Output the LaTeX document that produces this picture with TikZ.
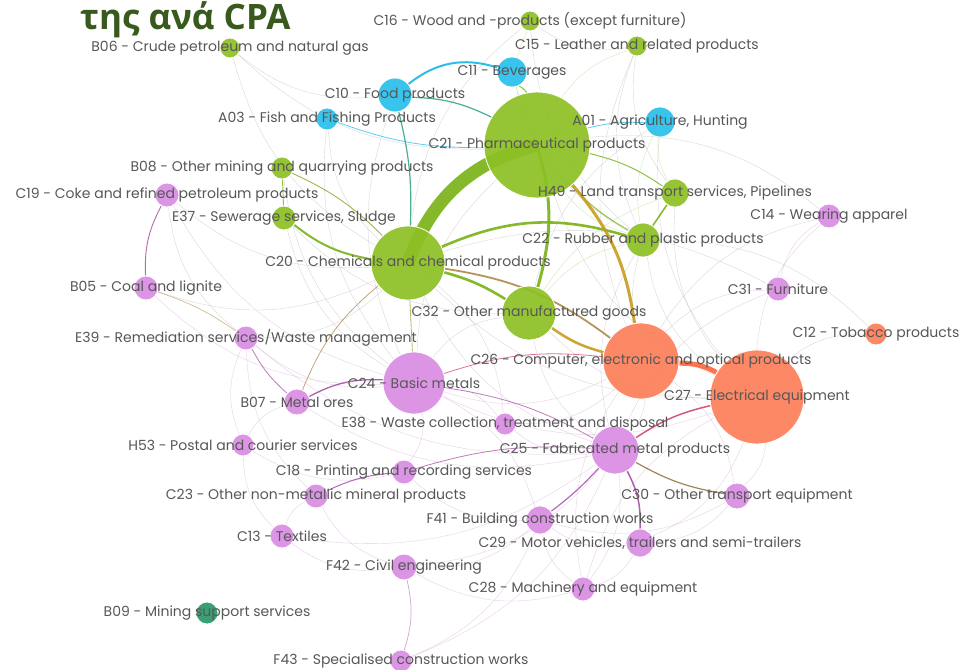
\documentclass[tikz,border=0pt]{standalone}
\usepackage{fontspec}
\newfontfamily\lblfont{Poppins}
\newfontfamily\ttlfont{Open Sans}
\usetikzlibrary{backgrounds}
\pgfdeclarelayer{bg}
\pgfdeclarelayer{edges}
\pgfsetlayers{bg,edges,main}
\definecolor{grn}{RGB}{140,192,36}
\definecolor{blu}{RGB}{40,192,236}
\definecolor{pnk}{RGB}{218,140,226}
\definecolor{org}{RGB}{252,126,90}
\definecolor{dgr}{RGB}{42,152,104}
\definecolor{egrn}{RGB}{120,178,20}
\definecolor{eteal}{RGB}{40,160,130}
\definecolor{eblu}{RGB}{20,185,230}
\definecolor{egold}{RGB}{200,156,30}
\definecolor{ebrn}{RGB}{170,130,60}
\definecolor{eorg}{RGB}{255,100,60}
\definecolor{ered}{RGB}{205,60,100}
\definecolor{epur}{RGB}{160,70,160}
\definecolor{ttl}{RGB}{56,90,28}
\tikzset{
  nd/.style={circle,draw=white,line width=0.8pt,inner sep=0pt,fill opacity=0.92},
  lbl/.style={font=\lblfont\fontsize{14}{14}\selectfont,text=black!66,inner sep=0pt},
  faint/.style={draw=black!30,line width=0.35pt,opacity=0.55},
  faintp/.style={draw=epur!45,line width=0.35pt,opacity=0.6},
  faintg/.style={draw=egrn!55,line width=0.35pt,opacity=0.6},
}
\newcommand\gnode[5]{\node[nd,fill=#5,minimum size=#4*2pt] (#1) at (#2,-#3) {};}
\newcommand\glbl[2]{\node[lbl] (#1l) at (#1.center) {#2};}
\begin{document}
\begin{tikzpicture}[x=1pt,y=1pt]
\begin{pgfonlayer}{bg}
\fill[white] (0,0) rectangle (968,-669);
\end{pgfonlayer}
\useasboundingbox (0,0) rectangle (968,-669);
% nodes
\gnode{B06}{230}{48}{10}{grn}
\gnode{C16}{530}{21}{10}{grn}
\gnode{C15}{637}{46}{10}{grn}
\gnode{C11}{512}{72}{15}{blu}
\gnode{C10}{395}{95}{17}{blu}
\gnode{A03}{327}{119}{11}{blu}
\gnode{A01}{660}{122}{15}{blu}
\gnode{C21}{537}{145}{53}{grn}
\gnode{B08}{282}{168}{11}{grn}
\gnode{C19}{167}{195}{12}{pnk}
\gnode{H49}{675}{193}{14}{grn}
\gnode{C14}{829}{216}{12}{pnk}
\gnode{E37}{284}{218}{12}{grn}
\gnode{C22}{643}{240}{17}{grn}
\gnode{C20}{408}{263}{37}{grn}
\gnode{B05}{146}{288}{12}{pnk}
\gnode{C31}{778}{289}{12}{pnk}
\gnode{C32}{529}{313}{27}{grn}
\gnode{E39}{246}{338}{12}{pnk}
\gnode{C12}{876}{334}{11}{org}
\gnode{C26}{641}{361}{38}{org}
\gnode{C24}{414}{383}{31}{pnk}
\gnode{C27}{757}{397}{47}{org}
\gnode{B07}{297}{402}{13}{pnk}
\gnode{E38}{505}{424}{11}{pnk}
\gnode{C25}{615}{450}{24}{pnk}
\gnode{H53}{243}{445}{11}{pnk}
\gnode{C18}{404}{472}{12}{pnk}
\gnode{C23}{316}{496}{12}{pnk}
\gnode{C30}{737}{496}{13}{pnk}
\gnode{F41}{540}{520}{14}{pnk}
\gnode{C13}{282}{536}{12}{pnk}
\gnode{C29}{640}{543}{14}{pnk}
\gnode{F42}{404}{567}{13}{pnk}
\gnode{C28}{583}{589}{12}{pnk}
\gnode{B09}{207}{613}{11}{dgr}
\gnode{F43}{401}{661}{11}{pnk}
% edges
\begin{pgfonlayer}{edges}
% faint web
\foreach \a/\b in {B06/C20,B06/C21,C16/C22,C16/C20,C15/C22,C15/C26,A01/C27,A01/C32,H49/C26,H49/C27,C22/C27,C22/C25,C14/C26,C14/C21,C31/C20,C12/C22,E39/C20,B05/C20,C19/C20,C19/E39,A03/C20,A03/C24,C10/C24,C11/C22,B08/C24,E37/C24,E37/C32,C20/C27,C21/C27,C21/C24,C32/C27,C16/C15,B06/C10,C15/H49}
  \draw[faint] (\a) to[bend right=22] (\b);
\foreach \a/\b in {E39/C24,E39/C25,E39/H53,E39/C23,B05/C24,C19/C24,B07/H53,B07/C25,H53/C18,H53/C13,C23/C13,C23/F42,C13/F42,C13/C25,F42/C25,F42/C28,F42/F41,F41/C24,F41/C28,F41/C29,F41/C30,C28/C29,C28/C25,C29/C30,C29/C27,C30/C27,C30/C26,E38/C24,E38/C25,E38/C26,C18/C24,C18/F41,C32/C24,C32/C25,C20/C25,C24/C26,C24/C27,C25/C26,C26/C28,C27/C28,F43/C25,F43/F41,C14/C27,C31/C25,C31/C26,C12/C27,C14/C31,E38/C20}
  \draw[faintp] (\a) to[bend right=22] (\b);
\foreach \a/\b in {C21/C22,A01/H49,A01/C22,C15/C21,C16/C21,C21/C20,C22/C32,H49/C32}
  \draw[faintg] (\a) to[bend right=18] (\b);
% strong edges
\draw[draw=egrn,line width=13pt,opacity=0.9] (C20.center) to[bend left=28] (C21.center);
\draw[draw=eblu,line width=2pt,opacity=0.9] (C10) to[bend left=28] (C11);
\draw[draw=eteal,line width=1.2pt,opacity=0.85] (C10) to[bend left=12] (C21);
\draw[draw=eteal,line width=1.2pt,opacity=0.85] (C10) to[bend left=8] (C20);
\draw[draw=eblu,line width=0.8pt,opacity=0.7] (A03) to[bend right=10] (C21);
\draw[draw=eblu,line width=0.8pt,opacity=0.7] (A01) to[bend right=8] (C21);
\draw[draw=egrn,line width=1pt,opacity=0.8] (C11) to[bend left=8] (C21);
\draw[draw=egrn,line width=3pt,opacity=0.9] (C21.center) to[bend left=16] (C32);
\draw[draw=egrn,line width=2.6pt,opacity=0.9] (C20) to[bend left=20] (C22);
\draw[draw=egrn,line width=2.6pt,opacity=0.9] (C20) to[bend left=8] (C32);
\draw[draw=egrn,line width=2pt,opacity=0.9] (E37) to[bend right=14] (C20);
\draw[draw=egrn!70!brown,line width=0.9pt,opacity=0.8] (B08) to[bend left=10] (C20);
\draw[draw=egrn,line width=0.9pt,opacity=0.8] (B08) -- (E37);
\draw[draw=egrn,line width=1.6pt,opacity=0.85] (H49) -- (C22);
\draw[draw=egrn,line width=1pt,opacity=0.8] (C21) to[bend left=10] (H49);
\draw[draw=egrn,line width=1pt,opacity=0.8] (C21) to[bend right=8] (C22);
\draw[draw=egold,line width=3pt,opacity=0.9] (C21) to[bend left=16] (C26);
\draw[draw=ebrn,line width=1.8pt,opacity=0.85] (C20) to[bend left=14] (C26);
\draw[draw=egold,line width=2.5pt,opacity=0.9] (C32) to[bend right=10] (C26);
\draw[draw=ebrn,line width=0.8pt,opacity=0.7] (C20) to[bend right=14] (B07);
\draw[draw=egrn!50!brown,line width=0.8pt,opacity=0.7] (C20) -- (C24);
\draw[draw=eorg,line width=5pt,opacity=0.9] (C26) to[bend left=14] (C27);
\draw[draw=ered,line width=1.5pt,opacity=0.85] (C25) to[bend left=10] (C27);
\draw[draw=epur,line width=1.3pt,opacity=0.85] (B07) to[bend left=15] (C24);
\draw[draw=epur,line width=0.8pt,opacity=0.7] (E39) to[bend right=10] (B07);
\draw[draw=epur,line width=0.9pt,opacity=0.8] (C19) to[bend right=15] (B05);
\draw[draw=ebrn,line width=0.6pt,opacity=0.6] (B05) to[bend left=8] (E39);
\draw[draw=ebrn!80!black,line width=1.2pt,opacity=0.8] (C25) to[bend right=10] (C30);
\draw[draw=epur,line width=1.5pt,opacity=0.85] (C25) to[bend left=15] (C29);
\draw[draw=epur,line width=1.2pt,opacity=0.8] (C25) to[bend left=5] (F41);
\draw[draw=epur,line width=1pt,opacity=0.8] (C23) to[bend left=10] (C18);
\draw[draw=epur,line width=0.8pt,opacity=0.7] (C18) to[bend left=10] (C25);
\draw[draw=epur,line width=0.8pt,opacity=0.7] (C24) to[bend left=10] (C25);
\draw[draw=epur!70,line width=0.7pt,opacity=0.7] (F42) to[bend left=15] (F43);
\draw[draw=ered,line width=0.8pt,opacity=0.7] (C24) to[bend left=12] (C26);
\end{pgfonlayer}
% labels
\glbl{B06}{B06 - Crude petroleum and natural gas}
\glbl{C16}{C16 - Wood and -products (except furniture)}
\glbl{C15}{C15 - Leather and related products}
\glbl{C11}{C11 - Beverages}
\glbl{C10}{C10 - Food products}
\glbl{A03}{A03 - Fish and Fishing Products}
\glbl{A01}{A01 - Agriculture, Hunting}
\glbl{C21}{C21 - Pharmaceutical products}
\glbl{B08}{B08 - Other mining and quarrying products}
\glbl{C19}{C19 - Coke and refined petroleum products}
\glbl{H49}{H49 - Land transport services, Pipelines}
\glbl{C14}{C14 - Wearing apparel}
\glbl{E37}{E37 - Sewerage services, Sludge}
\glbl{C22}{C22 - Rubber and plastic products}
\glbl{C20}{C20 - Chemicals and chemical products}
\glbl{B05}{B05 - Coal and lignite}
\glbl{C31}{C31 - Furniture}
\glbl{C32}{C32 - Other manufactured goods}
\glbl{E39}{E39 - Remediation services/Waste management}
\glbl{C12}{C12 - Tobacco products}
\glbl{C26}{C26 - Computer, electronic and optical products}
\glbl{C24}{C24 - Basic metals}
\glbl{C27}{C27 - Electrical equipment}
\glbl{B07}{B07 - Metal ores}
\glbl{E38}{E38 - Waste collection, treatment and disposal}
\glbl{C25}{C25 - Fabricated metal products}
\glbl{H53}{H53 - Postal and courier services}
\glbl{C18}{C18 - Printing and recording services}
\glbl{C23}{C23 - Other non-metallic mineral products}
\glbl{C30}{C30 - Other transport equipment}
\glbl{F41}{F41 - Building construction works}
\glbl{C13}{C13 - Textiles}
\glbl{C29}{C29 - Motor vehicles, trailers and semi-trailers}
\glbl{F42}{F42 - Civil engineering}
\glbl{C28}{C28 - Machinery and equipment}
\glbl{B09}{B09 - Mining support services}
\glbl{F43}{F43 - Specialised construction works}
\node[font=\ttlfont\bfseries\fontsize{35}{35}\selectfont,text=ttl,anchor=base west,inner sep=0pt] (title) at (80,-30) {της ανά CPA};
\end{tikzpicture}
\end{document}
